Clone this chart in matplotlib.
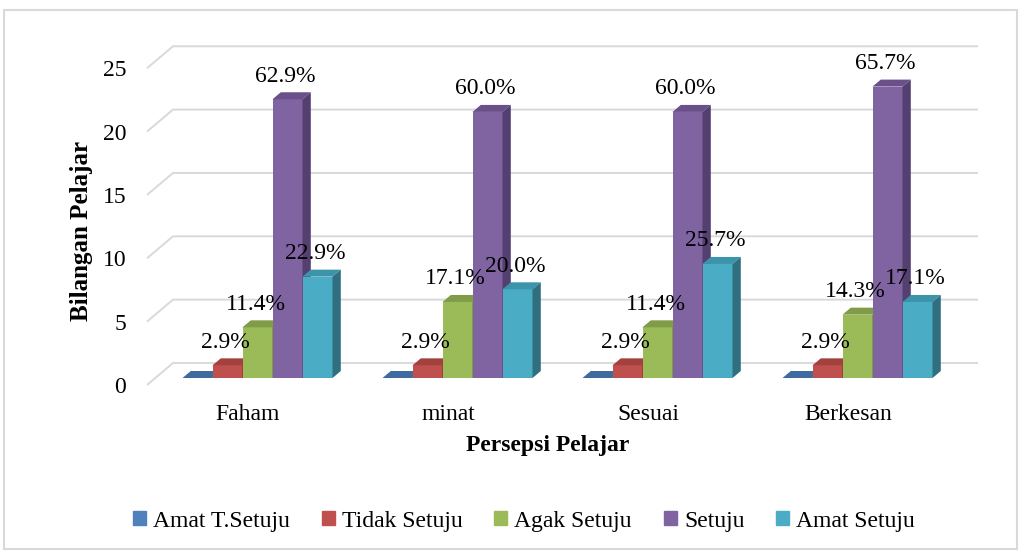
import numpy as np
import matplotlib.pyplot as plt
import matplotlib.patches as mpatches
from matplotlib.patches import Polygon, Rectangle

plt.rcParams["font.family"] = ["Liberation Serif", "DejaVu Serif"]

# data: number of students (out of 35) per perception item and response
categories = ["Faham", "minat", "Sesuai", "Berkesan"]
series_names = ["Amat T.Setuju", "Tidak Setuju", "Agak Setuju", "Setuju", "Amat Setuju"]
amat_t_setuju = [0, 0, 0, 0]
tidak_setuju = [1, 1, 1, 1]
agak_setuju = [4, 6, 4, 5]
setuju = [22, 21, 21, 23]
amat_setuju = [8, 7, 9, 6]
total_students = 35
yticks = [0, 5, 10, 15, 20, 25]

series = [amat_t_setuju, tidak_setuju, agak_setuju, setuju, amat_setuju]
front_colors = ["#4F81BD", "#C0504D", "#9BBB59", "#8064A2", "#4BACC6"]
top_colors = ["#3F6A9F", "#A3413E", "#809C48", "#6A5089", "#3C94AB"]
side_colors = ["#2F5283", "#7F3230", "#637A37", "#544070", "#2F6F80"]

# figure geometry (pixels) -> data units
W, H = 1021, 552
px_x = 1 / 200.0      # data units per pixel along x
px_y = 1 / 12.67      # data units per pixel along y
ax_l, ax_r, ax_t, ax_b = 140, 985, 40, 390
x_ref, y_ref = 257.5, 378   # pixel of x=0 / y=0 (front of bars)

fig = plt.figure(figsize=(W / 100, H / 100), dpi=100)
ax = fig.add_axes([ax_l / W, 1 - ax_b / H, (ax_r - ax_l) / W, (ax_b - ax_t) / H])
ax.set_xlim((ax_l - x_ref) * px_x, (ax_r - x_ref) * px_x)
ax.set_ylim((y_ref - ax_b) * px_y, (y_ref - ax_t) * px_y)
for s in ax.spines.values():
    s.set_visible(False)

# pseudo 3d: wall depth vector and bar depth vector
wall_dx, wall_dy = 26 * px_x, 22 * px_y
bar_dx, bar_dy = 8.3 * px_x, 7 * px_y
floor_y = -7 * px_y
wall_x0 = (147 - x_ref) * px_x
wall_x1 = (952 - x_ref) * px_x

# back wall gridlines + side diagonals
for v in yticks:
    yf = v + floor_y
    ax.plot([wall_x0, wall_x0 + wall_dx, wall_x1 + wall_dx],
            [yf, yf + wall_dy, yf + wall_dy],
            color="#D9D9D9", lw=1.4, zorder=1, solid_capstyle="butt")

bar_w = 0.15
n = len(series)
for i, cat in enumerate(categories):
    for j in range(n):
        h = series[j][i]
        x0 = i + (j - n / 2) * bar_w
        x1 = x0 + bar_w
        ax.bar(x0, h, width=bar_w, align="edge", color=front_colors[j],
               lw=0, zorder=2 + i * n + j)
        top = Polygon([(x0, h), (x1, h), (x1 + bar_dx, h + bar_dy), (x0 + bar_dx, h + bar_dy)],
                      closed=True, fc=top_colors[j], ec="none", zorder=2 + i * n + j)
        side = Polygon([(x1, 0), (x1, h), (x1 + bar_dx, h + bar_dy), (x1 + bar_dx, bar_dy)],
                       closed=True, fc=side_colors[j], ec="none", zorder=2 + i * n + j)
        ax.add_patch(top)
        ax.add_patch(side)
        if h > 0:
            pct = 100.0 * h / total_students
            ax.text(x0 + bar_w / 2 - 2 * px_x, h + bar_dy + 16 * px_y, f"{pct:.1f}%",
                    ha="center", va="center", fontsize=17, zorder=100)

ax.set_xticks(np.arange(len(categories)) - 9.5 * px_x)
ax.set_xticklabels(categories, fontsize=17)
ax.set_yticks(np.array(yticks) + floor_y)
ax.set_yticklabels([str(v) for v in yticks], fontsize=17)
ax.tick_params(axis="both", length=0)
ax.tick_params(axis="x", pad=10)
ax.tick_params(axis="y", pad=10)

fig.text(81 / W, 1 - 231 / H, "Bilangan Pelajar", rotation=90, ha="center", va="center",
         fontsize=18, fontweight="bold")
fig.text(548 / W, 1 - 445 / H, "Persepsi Pelajar", ha="center", va="center",
         fontsize=17, fontweight="bold")

handles = [mpatches.Patch(color=c) for c in front_colors]
fig.legend(handles, series_names, ncol=5, loc="center", bbox_to_anchor=(524 / W, 1 - 521 / H),
           frameon=False, fontsize=17, handlelength=0.55, handleheight=0.55,
           handletextpad=0.3, columnspacing=1.35)

fig.patches.append(Rectangle((4 / W, 1 - 549 / H), 1013 / W, 539 / H, transform=fig.transFigure,
                             fill=False, ec="#D9D9D9", lw=1.5))

fig.savefig("out.png", dpi=100)
